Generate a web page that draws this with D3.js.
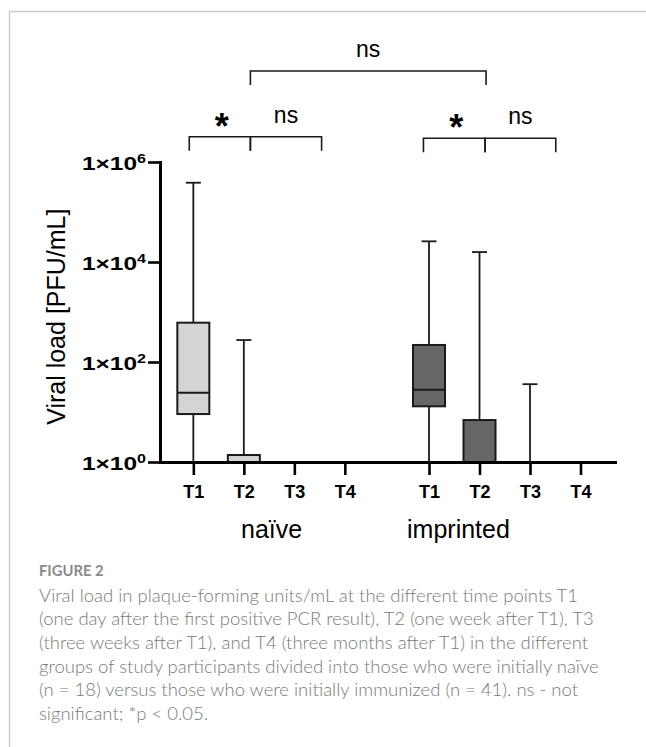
<!DOCTYPE html>
<html>
<head>
<meta charset="utf-8">
<script src="https://cdn.jsdelivr.net/npm/d3@7"></script>
<style>
  body { margin: 0; background: #fff; }
  svg { display: block; }
</style>
</head>
<body>
<script>
// Groups and sampling time points
const groups = ["naïve", "imprinted"];
const timepoints = ["T1", "T2", "T3", "T4"];

// Box-plot summaries (PFU/mL) for T1..T4; values at or below the floor sit at 1
const naiveMin = [1, 1, 1, 1];
const naiveQ1 = [9.1, 1, 1, 1];
const naiveMedian = [24.3, 1, 1, 1];
const naiveQ3 = [611, 1.38, 1, 1];
const naiveMax = [385000, 275, 1, 1];

const imprintedMin = [1, 1, 1, 1];
const imprintedQ1 = [13, 1, 1, 1];
const imprintedMedian = [27.9, 1, 1, 1];
const imprintedQ3 = [219, 6.9, 1, 1];
const imprintedMax = [25900, 15800, 36, 1];

// Y axis ticks
const yTickValues = [1, 1e2, 1e4, 1e6];
const yTickExponents = ["0", "2", "4", "6"];

// Significance bracket labels
const bracketLabels = ["ns", "*", "ns", "*", "ns"];
const caption = [
  "Viral load in plaque-forming units/mL at the different time points T1",
  "(one day after the first positive PCR result), T2 (one week after T1), T3",
  "(three weeks after T1), and T4 (three months after T1) in the different",
  "groups of study participants divided into those who were initially naïve",
  "(n = 18) versus those who were initially immunized (n = 41). ns - not",
  "significant; *p < 0.05."
];
const captionTitle = "FIGURE 2";

const summaries = [
  { min: naiveMin, q1: naiveQ1, med: naiveMedian, q3: naiveQ3, max: naiveMax, fill: "#d4d4d4" },
  { min: imprintedMin, q1: imprintedQ1, med: imprintedMedian, q3: imprintedQ3, max: imprintedMax, fill: "#666666" }
];

const W = 646, H = 747;
const svg = d3.select("body").append("svg")
  .attr("width", W).attr("height", H)
  .attr("viewBox", `0 0 ${W} ${H}`);

// Thin frame on the left and top
svg.append("path")
  .attr("d", `M9.5,${H} V11.5 H${W}`)
  .attr("fill", "none").attr("stroke", "#c8c8c8").attr("stroke-width", 1.3);

const FONT = "'Liberation Sans', Arial, Helvetica, sans-serif";

// Scales: x in slot units (one slot per time point, a wider gap between groups)
const groupStride = 4.667;
const slotOf = (g, t) => g * groupStride + t;
const x = d3.scaleLinear().domain([-0.66, 8.35]).range([160, 615]);
const y = d3.scaleLog().domain([1, 1e6]).range([462, 162]);

const boxHalf = 16, capHalf = 7.5;
const plot = svg.append("g");

summaries.forEach((s, g) => {
  timepoints.forEach((tp, t) => {
    const cx = x(slotOf(g, t));
    const gg = plot.append("g");
    // lower whisker
    if (s.q1[t] > s.min[t]) {
      gg.append("line").attr("x1", cx).attr("x2", cx)
        .attr("y1", y(s.min[t])).attr("y2", y(s.q1[t]))
        .attr("stroke", "#1a1a1a").attr("stroke-width", 1.8);
    }
    // upper whisker with cap
    if (s.max[t] > s.q3[t]) {
      gg.append("line").attr("x1", cx).attr("x2", cx)
        .attr("y1", y(s.q3[t])).attr("y2", y(s.max[t]))
        .attr("stroke", "#1a1a1a").attr("stroke-width", 1.8);
      gg.append("line").attr("x1", cx - capHalf).attr("x2", cx + capHalf)
        .attr("y1", y(s.max[t])).attr("y2", y(s.max[t]))
        .attr("stroke", "#1a1a1a").attr("stroke-width", 1.8);
    }
    // box and median
    if (s.q3[t] > s.q1[t]) {
      gg.append("rect")
        .attr("x", cx - boxHalf).attr("width", boxHalf * 2)
        .attr("y", y(s.q3[t])).attr("height", y(s.q1[t]) - y(s.q3[t]))
        .attr("fill", s.fill).attr("stroke", "#1a1a1a").attr("stroke-width", 2);
      gg.append("line").attr("x1", cx - boxHalf).attr("x2", cx + boxHalf)
        .attr("y1", y(s.med[t])).attr("y2", y(s.med[t]))
        .attr("stroke", "#1a1a1a").attr("stroke-width", 2);
    }
  });
});

// Y axis
const yAxis = d3.axisLeft(y).tickValues(yTickValues).tickFormat("").tickSize(12).tickSizeOuter(0);
const yg = svg.append("g").attr("transform", "translate(160,0)").call(yAxis);
yg.select(".domain").attr("stroke", "#000").attr("stroke-width", 3).attr("stroke-linecap", "square");
yg.selectAll(".tick line").attr("stroke", "#000").attr("stroke-width", 2.6);
yg.selectAll(".tick").each(function (d, i) {
  const t = d3.select(this).append("text")
    .attr("x", -14).attr("y", 7.6)
    .attr("text-anchor", "end")
    .attr("fill", "#000")
    .attr("font-family", FONT).attr("font-weight", "bold").attr("font-size", 19)
    .attr("textLength", 64).attr("lengthAdjust", "spacingAndGlyphs");
  t.append("tspan").text("1×10");
  t.append("tspan").attr("dy", -6.8).attr("font-size", 12.5).text(yTickExponents[i]);
});

// X axis
const slots = [];
groups.forEach((gname, g) => timepoints.forEach((tp, t) => slots.push(slotOf(g, t))));
const xAxis = d3.axisBottom(x).tickValues(slots)
  .tickFormat((d, i) => timepoints[i % timepoints.length])
  .tickSize(13).tickSizeOuter(0).tickPadding(9);
const xg = svg.append("g").attr("transform", `translate(0,${y(1)})`).call(xAxis);
xg.select(".domain").attr("stroke", "#000").attr("stroke-width", 3).attr("stroke-linecap", "square");
xg.selectAll(".tick line").attr("stroke", "#000").attr("stroke-width", 2.6);
xg.selectAll(".tick text")
  .attr("fill", "#000").attr("font-family", FONT).attr("font-weight", "bold").attr("font-size", 18)
  .attr("dy", null).attr("y", 36.3);

// Group names
const groupLabelSlots = [1.55, 5.25];
svg.selectAll(".group-label").data(groups).join("text")
  .attr("class", "group-label")
  .attr("x", (d, i) => x(groupLabelSlots[i]))
  .attr("y", 538)
  .attr("text-anchor", "middle")
  .attr("font-family", FONT).attr("font-size", 25).attr("fill", "#000")
  .text(d => d);

// Y axis title
svg.append("text")
  .attr("transform", "translate(65,316.7) rotate(-90)")
  .attr("text-anchor", "middle")
  .attr("font-family", FONT).attr("font-size", 25).attr("fill", "#000")
  .text("Viral load [PFU/mL]");

// Significance brackets: height in data units, ends in slot units
const bracketLevels = [6.6e7, 3.2e6, 3.2e6, 2.98e6, 2.98e6];
const brackets = [
  { label: bracketLabels[0], level: bracketLevels[0], from: slotOf(0, 1.13), to: slotOf(1, 1.13) },
  { label: bracketLabels[1], level: bracketLevels[1], from: slotOf(0, -0.08), to: slotOf(0, 1.13) },
  { label: bracketLabels[2], level: bracketLevels[2], from: slotOf(0, 1.13), to: slotOf(0, 2.54) },
  { label: bracketLabels[3], level: bracketLevels[3], from: slotOf(1, -0.11), to: slotOf(1, 1.11) },
  { label: bracketLabels[4], level: bracketLevels[4], from: slotOf(1, 1.11), to: slotOf(1, 2.51) }
];
const bg = svg.append("g");
brackets.forEach(b => {
  const by = y(b.level), x1 = x(b.from), x2 = x(b.to);
  bg.append("path")
    .attr("d", `M${x1},${by + 14} V${by} H${x2} V${by + 14}`)
    .attr("fill", "none").attr("stroke", "#1a1a1a").attr("stroke-width", 1.6);
  const isStar = b.label === "*";
  bg.append("text")
    .attr("x", (x1 + x2) / 2 + (isStar ? 2 : 0))
    .attr("y", isStar ? by + 2 : by - 14)
    .attr("text-anchor", "middle")
    .attr("font-family", FONT)
    .attr("font-weight", isStar ? "bold" : "normal")
    .attr("font-size", isStar ? 36 : 23)
    .attr("fill", "#000")
    .text(b.label);
});

// Caption
const CAP_FONT = "Lato, 'Open Sans', 'Noto Sans', sans-serif";
svg.append("text")
  .attr("x", 39).attr("y", 576)
  .attr("font-family", CAP_FONT).attr("font-weight", "bold").attr("font-size", 14.8)
  .attr("fill", "#8a8a8a")
  .text(captionTitle);
svg.selectAll(".cap-line").data(caption).join("text")
  .attr("class", "cap-line")
  .attr("x", 39).attr("y", (d, i) => 601.7 + i * 23.6)
  .attr("font-family", CAP_FONT).attr("font-weight", 300).attr("font-size", 18.5)
  .attr("fill", "#7a7a7a")
  .text(d => d);
</script>
</body>
</html>
